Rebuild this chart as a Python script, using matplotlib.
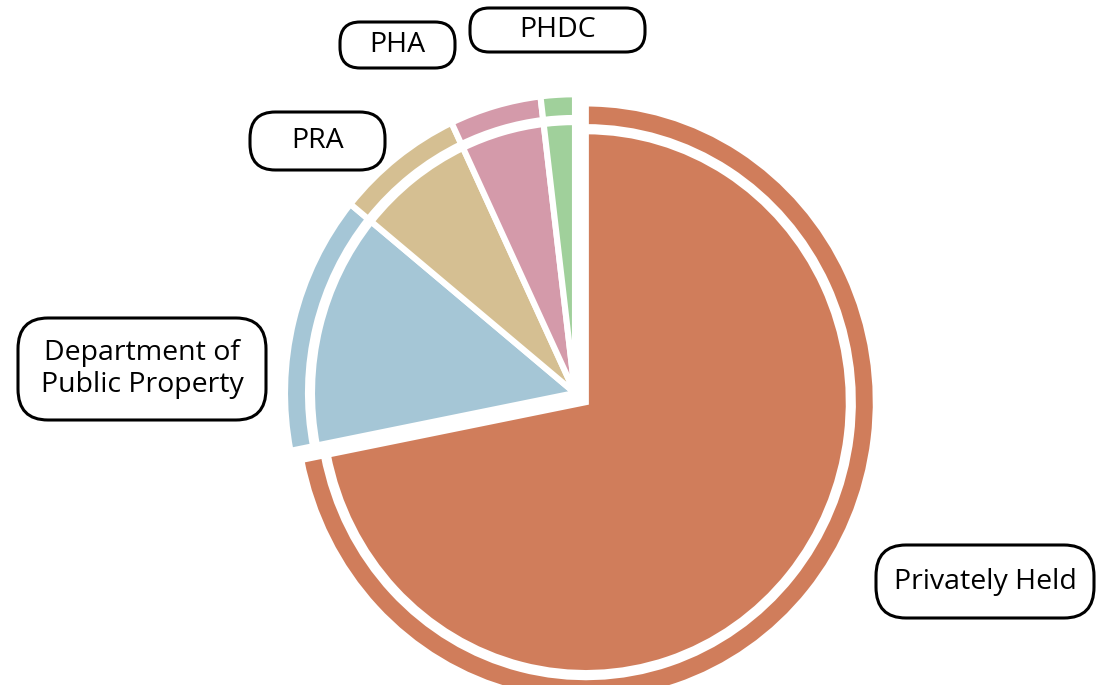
import matplotlib
matplotlib.use('Agg')
import matplotlib.pyplot as plt
from matplotlib.patches import FancyBboxPatch

# share of parcels by owner, clockwise from 12 o'clock
owners = ['Privately Held', 'Department of\nPublic Property', 'PRA', 'PHA', 'PHDC']
shares = [71.9, 14.0, 7.1, 5.1, 1.9]
colors = ['#D07D5B', '#A5C6D6', '#D5BF92', '#D49AAA', '#A0D09B']

# label boxes in pixel coords: (left, top, right, bottom)
boxes = [
    (876, 545, 1094, 618),
    (18, 318, 266, 420),
    (250, 112, 385, 170),
    (340, 22, 455, 68),
    (470, 8, 645, 52),
]

W, H = 1097, 685
S = 1.03  # the original is a little taller than wide


def py(y):
    """pixel row -> data y"""
    return (H - y) / S


fig = plt.figure(figsize=(W / 100, H / 100), dpi=100)
ax = fig.add_axes([0, 0, 1, 1])

center = (575, py(393))
explode = [14, 0, 0, 0, 0]
edge = dict(edgecolor='white', linewidth=4.4)

# inner pie
ax.pie(shares, colors=colors, startangle=90, counterclock=False,
       radius=263, center=center, explode=explode, wedgeprops=edge)
# outer ring
ax.pie(shares, colors=colors, startangle=90, counterclock=False,
       radius=290, center=center, explode=explode,
       wedgeprops=dict(width=23, **edge))

for name, (l, t, r, b) in zip(owners, boxes):
    h = (b - t) / S
    box = FancyBboxPatch((l, py(b)), r - l, h,
                         boxstyle='round,pad=0,rounding_size=%.1f' % min(0.45 * h, 30),
                         facecolor='white', edgecolor='black', linewidth=2.2)
    ax.add_patch(box)
    ax.text((l + r) / 2, py((t + b) / 2), name, ha='center', va='center',
            fontsize=20.5, family='Open Sans', linespacing=1.15)

ax.set_xlim(0, W)
ax.set_ylim(0, H / S)
ax.set_aspect('auto')
ax.axis('off')

fig.savefig('out.png', dpi=100, facecolor='white')
